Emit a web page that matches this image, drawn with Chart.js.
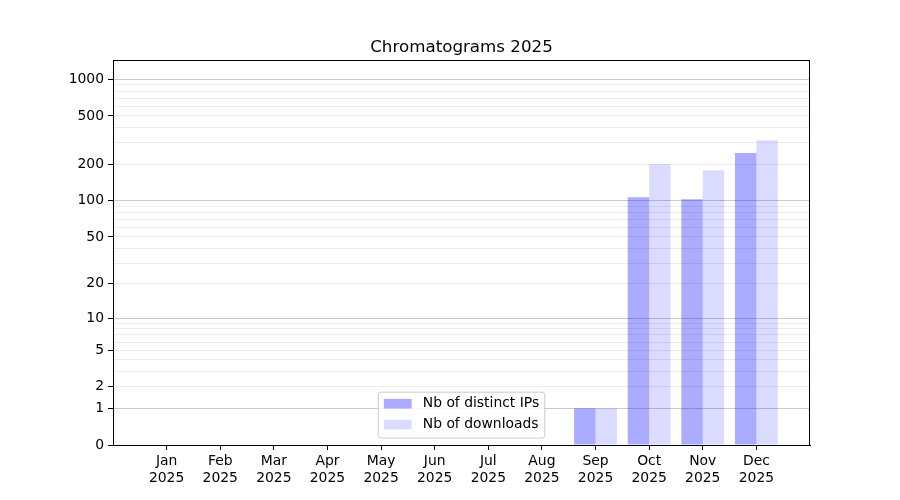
<!DOCTYPE html>
<html>
<head>
<meta charset="utf-8">
<script src="https://cdn.jsdelivr.net/npm/chart.js@4.4.1/dist/chart.umd.min.js"></script>
<style>
  html, body { margin: 0; padding: 0; background: #fff; }
  #wrap { width: 900px; height: 500px; }
</style>
</head>
<body>
<div id="wrap"><canvas id="chart"></canvas></div>
<script>
// Values
const months = ['Jan', 'Feb', 'Mar', 'Apr', 'May', 'Jun', 'Jul', 'Aug', 'Sep', 'Oct', 'Nov', 'Dec'];
const year = '2025';
const distinctIPs = [0, 0, 0, 0, 0, 0, 0, 0, 1, 107, 103, 248];
const downloads = [0, 0, 0, 0, 0, 0, 0, 0, 1, 200, 179, 315];

// y ticks: every grid line, the labelled ones, and the darker (major) ones
const yTicks = [0, 1, 2, 3, 4, 5, 6, 7, 8, 9, 10, 20, 30, 40, 50, 60, 70, 80, 90,
                100, 200, 300, 400, 500, 600, 700, 800, 900, 1000];
const yLabelled = [0, 1, 2, 5, 10, 20, 50, 100, 200, 500, 1000];
const yMajor = [1, 10, 100, 1000];

const FS = 13.9; // 10pt at 100 dpi
Chart.defaults.font.family = '"DejaVu Sans", sans-serif';
Chart.defaults.font.size = FS;
Chart.defaults.color = '#000';

// y = log10(1 + v) scale, built on the linear one
const f = v => Math.log10(1 + Math.max(v, 0));
const fInv = t => Math.pow(10, t) - 1;

class Log1pScale extends Chart.LinearScale {
    buildTicks() {
        return yTicks.filter(v => v >= this.min && v <= this.max).map(v => ({ value: v }));
    }
    configure() {
        super.configure();
        this._startValue = f(this.min);
        this._valueRange = f(this.max) - f(this.min);
    }
    getPixelForValue(value) {
        if (value === null || value === undefined) return NaN;
        return this.getPixelForDecimal((f(value) - this._startValue) / this._valueRange);
    }
    getValueForPixel(pixel) {
        return fInv(this.getDecimalForPixel(pixel) * this._valueRange + this._startValue);
    }
}
Log1pScale.id = 'log1p';
Log1pScale.defaults = {};
Chart.register(Log1pScale);

// Box around the plot (top and right sides are not drawn by the axes)
const framePlugin = {
    id: 'frame',
    afterDraw(chart) {
        const { ctx, chartArea: a } = chart;
        ctx.save();
        ctx.strokeStyle = '#000';
        ctx.lineWidth = 1;
        ctx.strokeRect(Math.round(a.left) + 0.5, Math.round(a.top) + 0.5,
                       Math.round(a.right - a.left) - 1, Math.round(a.bottom - a.top));
        ctx.restore();
    }
};

// Legend inside the plot, lower centre, matplotlib style
const innerLegend = {
    id: 'innerLegend',
    afterDraw(chart) {
        const { ctx, chartArea: a } = chart;
        const items = chart.data.datasets;
        ctx.save();
        ctx.font = FS + 'px "DejaVu Sans"';
        const textW = Math.max(...items.map(d => ctx.measureText(d.label).width));
        const pad = 0.4 * FS, handleL = 2 * FS, handlePad = 0.8 * FS, rowH = FS, rowGap = 0.5 * FS;
        const w = pad * 2 + handleL + handlePad + textW;
        const h = pad * 2 + items.length * rowH + (items.length - 1) * rowGap;
        const x0 = (a.left + a.right) / 2 - w / 2;
        const y0 = a.bottom - 0.5 * FS - h;

        ctx.beginPath();
        ctx.roundRect(x0, y0, w, h, 0.2 * FS);
        ctx.fillStyle = 'rgba(255,255,255,0.8)';
        ctx.fill();
        ctx.strokeStyle = '#cccccc';
        ctx.lineWidth = 1;
        ctx.stroke();

        items.forEach((d, i) => {
            const cy = y0 + pad + i * (rowH + rowGap) + rowH / 2 - 1;
            ctx.fillStyle = d.backgroundColor;
            ctx.fillRect(x0 + pad, cy - 0.35 * FS, handleL, 0.7 * FS);
            ctx.fillStyle = '#000';
            ctx.textBaseline = 'middle';
            ctx.textAlign = 'left';
            ctx.fillText(d.label, x0 + pad + handleL + handlePad, cy);
        });
        ctx.restore();
    }
};

new Chart(document.getElementById('chart'), {
    type: 'bar',
    data: {
        datasets: [
            {
                label: 'Nb of distinct IPs',
                data: distinctIPs.map((v, i) => ({ x: i, y: v })),
                backgroundColor: 'rgba(0,0,255,0.33)',
                borderWidth: 0
            },
            {
                label: 'Nb of downloads',
                data: downloads.map((v, i) => ({ x: i, y: v })),
                backgroundColor: 'rgba(0,0,255,0.14)',
                borderWidth: 0
            }
        ]
    },
    options: {
        responsive: true,
        maintainAspectRatio: false,
        animation: false,
        categoryPercentage: 0.8,
        barPercentage: 1.0,
        layout: { padding: { left: 0, right: 90, top: 0, bottom: 0 } },
        plugins: {
            legend: { display: false },
            tooltip: { enabled: false },
            title: {
                display: true,
                text: 'Chromatograms 2025',
                fullSize: false,
                color: '#000',
                font: { size: 16.7, weight: 'normal' },
                padding: { top: 38, bottom: 2 }
            }
        },
        scales: {
            x: {
                type: 'linear',
                min: -1,
                max: 12,
                offset: false,
                afterBuildTicks: s => { s.ticks = months.map((m, i) => ({ value: i })); },
                afterFit: s => { s.height = 55; },
                ticks: {
                    callback: v => [months[v], year],
                    maxRotation: 0,
                    autoSkip: false,
                    padding: 3
                },
                grid: { drawOnChartArea: false, offset: false, tickColor: '#000', tickLength: 5 },
                border: { color: '#000' }
            },
            y: {
                type: 'log1p',
                min: 0,
                max: 1440,
                z: 1,
                afterFit: s => { s.width = 113; },
                ticks: {
                    autoSkip: false,
                    padding: 4,
                    callback: v => yLabelled.includes(v) ? String(v) : ''
                },
                grid: {
                    color: c => {
                        const v = c.tick ? c.tick.value : null;
                        if (v === 0) return 'rgba(0,0,0,0)';
                        return yMajor.includes(v) ? '#cbcbcb' : '#ececec';
                    },
                    tickColor: c => (c.tick && yLabelled.includes(c.tick.value)) ? '#000' : 'rgba(0,0,0,0)',
                    tickLength: 5
                },
                border: { color: '#000' }
            }
        }
    },
    plugins: [framePlugin, innerLegend]
});
</script>
</body>
</html>
